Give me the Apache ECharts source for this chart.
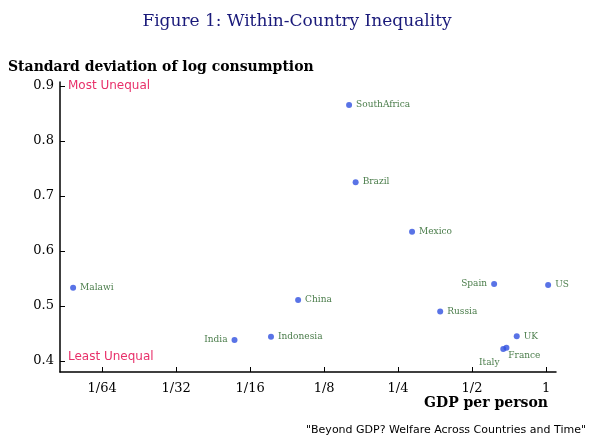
<!DOCTYPE html>
<html><head><meta charset="utf-8">
<script src="https://cdn.jsdelivr.net/npm/echarts@6/dist/echarts.min.js"></script>
<style>html,body{margin:0;padding:0;background:#fff}#c{width:594px;height:445px}</style>
</head><body><div id="c"></div>
<script>
const countries = ["Malawi","SouthAfrica","Brazil","Mexico","China","India","Indonesia","Russia","Spain","US","UK","Italy","France"];
const gdp = [0.0119,0.158,0.168,0.285,0.098,0.054,0.076,0.371,0.615,1.02,0.76,0.67,0.69];
const sdLog = [0.533,0.865,0.725,0.635,0.511,0.438,0.444,0.49,0.54,0.538,0.445,0.422,0.424];
const xTickExp = [-6,-5,-4,-3,-2,-1,0];
const xTickLabels = ["1/64","1/32","1/16","1/8","1/4","1/2","1"];
const yTicks = [0.4,0.5,0.6,0.7,0.8,0.9];
const labelPos = {India:'left',Italy:'bottom',France:'bottom',Spain:'left'};
const labelOff = {Italy:[-14,2],France:[18,-4],India:[0,0]};
const data = countries.map((c,i)=>({name:c,value:[Math.log2(gdp[i]),sdLog[i]],
  label:{position:labelPos[c]||'right',offset:labelOff[c]||[0,0]}}));
const chart = echarts.init(document.getElementById('c'));
chart.setOption({
  animation:false,
  grid:{left:60,right:38,top:82,bottom:73},
  title:{text:'Figure 1: Within-Country Inequality',left:'center',top:8,
    textStyle:{fontFamily:'DejaVu Serif',fontWeight:'normal',fontSize:17,color:'#1a1a7a'}},
  xAxis:{type:'value',min:-6.57,max:0.135,
    axisLine:{onZero:false,lineStyle:{color:'#000',width:1.5}},
    axisTick:{customValues:xTickExp,inside:true,length:5,lineStyle:{color:'#000'}},
    axisLabel:{customValues:xTickExp,formatter:v=>xTickLabels[xTickExp.indexOf(Math.round(v))],
      color:'#000',fontFamily:'DejaVu Serif',fontSize:13,margin:10},
    splitLine:{show:false}},
  yAxis:{type:'value',min:0.38,max:0.907,
    axisLine:{show:true,onZero:false,lineStyle:{color:'#000',width:1.5}},
    axisTick:{customValues:yTicks,inside:true,length:5,lineStyle:{color:'#000'}},
    axisLabel:{customValues:yTicks,formatter:v=>v.toFixed(1),color:'#000',fontFamily:'DejaVu Serif',fontSize:13,margin:6},
    splitLine:{show:false}},
  series:[{type:'scatter',data:data,symbolSize:6,itemStyle:{color:'#3050e0'},
    label:{show:true,formatter:p=>p.name,color:'#1a5a1a',fontFamily:'DejaVu Serif',fontSize:9,distance:4}}],
  graphic:[
    {type:'text',left:8,top:60,style:{text:'Standard deviation of log consumption',font:'bold 14px "DejaVu Serif"',fill:'#000'}},
    {type:'text',left:68,top:80,style:{text:'Most Unequal',font:'12px "DejaVu Sans"',fill:'#e8306a'}},
    {type:'text',left:68,top:351,style:{text:'Least Unequal',font:'12px "DejaVu Sans"',fill:'#e8306a'}},
    {type:'text',right:46,top:396,style:{text:'GDP per person',font:'bold 14px "DejaVu Serif"',fill:'#000'}},
    {type:'text',right:8,top:425,style:{text:'"Beyond GDP? Welfare Across Countries and Time"',font:'11px "DejaVu Sans"',fill:'#000'}}
  ]
});
</script></body></html>
